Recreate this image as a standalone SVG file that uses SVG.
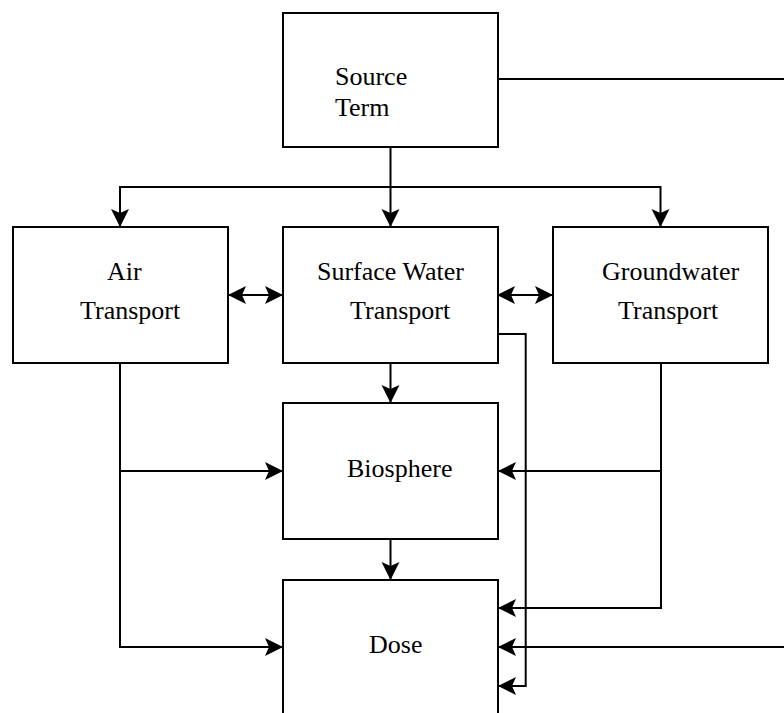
<svg xmlns="http://www.w3.org/2000/svg" width="784" height="713" viewBox="0 0 784 713">
<style>
.box{fill:#fff;stroke:#000;stroke-width:2}
.lbl{font-family:"Liberation Serif","Times New Roman",serif;font-size:26px;fill:#000}
.c{fill:none;stroke:#000;stroke-width:2}
</style>
<defs>
<marker id="ah" markerUnits="userSpaceOnUse" markerWidth="24" markerHeight="24" refX="0" refY="0" orient="auto-start-reverse" overflow="visible">
<path d="M0,0 L-18,-9 L-14,0 L-18,9 Z" fill="#000"/>
</marker>
</defs>
<rect width="784" height="713" fill="#fff"/>
<g id="connectors">
<path class="c" d="M390.5,147 V227" marker-end="url(#ah)"/>
<path class="c" d="M390.5,187 H120 V227" marker-end="url(#ah)"/>
<path class="c" d="M390.5,187 H660.5 V227" marker-end="url(#ah)"/>
<path class="c" d="M498,79 H784"/>
<path class="c" d="M228,295 H283" marker-start="url(#ah)" marker-end="url(#ah)"/>
<path class="c" d="M497,295 H553" marker-start="url(#ah)" marker-end="url(#ah)"/>
<path class="c" d="M120,363 V647 H283" marker-end="url(#ah)"/>
<path class="c" d="M120,471 H283" marker-end="url(#ah)"/>
<path class="c" d="M390.5,363 V403" marker-end="url(#ah)"/>
<path class="c" d="M390.5,539 V580" marker-end="url(#ah)"/>
<path class="c" d="M661,363 V608 H498" marker-end="url(#ah)"/>
<path class="c" d="M661,471 H498" marker-end="url(#ah)"/>
<path class="c" d="M784,647 H498" marker-end="url(#ah)"/>
<path class="c" d="M498,334 H525.7 V686 H498" marker-end="url(#ah)"/>
</g>
<g id="source-term">
<rect class="box" x="283" y="13" width="215" height="134"/>
<text class="lbl" x="335" y="85">Source</text>
<text class="lbl" x="335" y="116">Term</text>
</g>
<g id="air-transport">
<rect class="box" x="13" y="227" width="215" height="136"/>
<text class="lbl" x="107" y="280">Air</text>
<text class="lbl" x="80" y="319">Transport</text>
</g>
<g id="surface-water-transport">
<rect class="box" x="283" y="227" width="215" height="136"/>
<text class="lbl" x="317" y="280">Surface Water</text>
<text class="lbl" x="350" y="319">Transport</text>
</g>
<g id="groundwater-transport">
<rect class="box" x="553" y="227" width="215" height="136"/>
<text class="lbl" x="602" y="280">Groundwater</text>
<text class="lbl" x="618" y="319">Transport</text>
</g>
<g id="biosphere">
<rect class="box" x="283" y="403" width="215" height="136"/>
<text class="lbl" x="347" y="477">Biosphere</text>
</g>
<g id="dose">
<rect class="box" x="283" y="580" width="215" height="150"/>
<text class="lbl" x="369" y="653">Dose</text>
</g>
</svg>
